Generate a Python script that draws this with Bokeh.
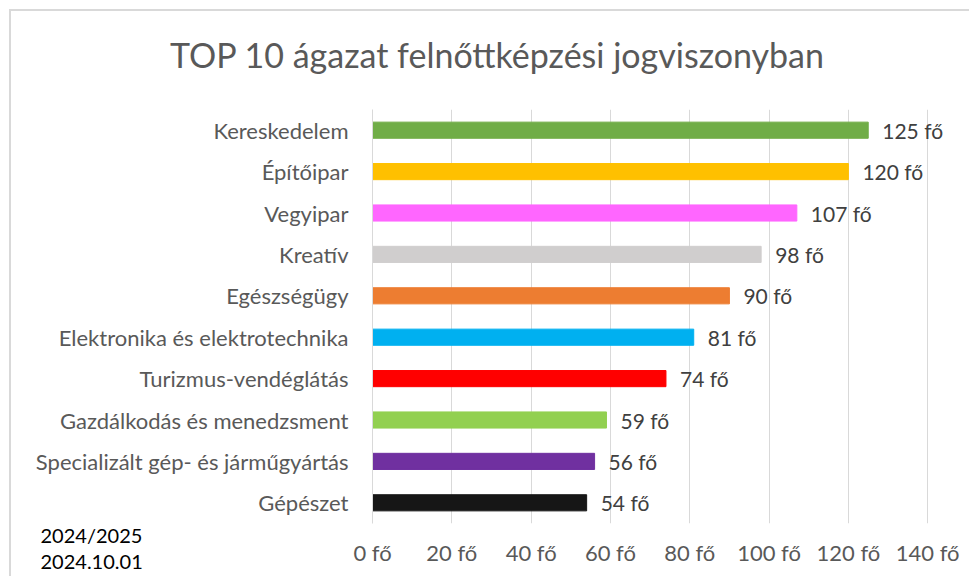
from bokeh.plotting import figure
from bokeh.models import Range1d, FactorRange, FixedTicker, Label, ColumnDataSource
from bokeh.core.properties import value
from bokeh.embed import file_html
from bokeh.resources import INLINE

title_text = "TOP 10 ágazat felnőttképzési jogviszonyban"
categories = ["Kereskedelem", "Építőipar", "Vegyipar", "Kreatív", "Egészségügy",
              "Elektronika és elektrotechnika", "Turizmus-vendéglátás",
              "Gazdálkodás és menedzsment", "Specializált gép- és járműgyártás", "Gépészet"]
values = [125, 120, 107, 98, 90, 81, 74, 59, 56, 54]
colors = ["#70ad47", "#ffc000", "#ff66ff", "#d0cece", "#ed7d31",
          "#00b0f0", "#ff0000", "#92d050", "#7030a0", "#161616"]
xticks = [0, 20, 40, 60, 80, 100, 120, 140]
xtick_labels = ["0 fő", "20 fő", "40 fő", "60 fő", "80 fő", "100 fő", "120 fő", "140 fő"]
note_text = "2024/2025\n2024.10.01"

FONT = "Lato"

src = ColumnDataSource(dict(
    cat=categories, val=values, color=colors,
    lab=[f"{v} fő" for v in values],
))

p = figure(width=960, height=567, output_backend="svg", toolbar_location=None,
           y_range=FactorRange(*list(reversed(categories))),
           x_range=Range1d(0, 146),
           min_border_left=361, min_border_right=20, min_border_top=98, min_border_bottom=55)
p.styles = {"margin-left": "9px", "margin-top": "9px",
            "border-left": "2px solid #d9d9d9", "border-top": "2px solid #d9d9d9"}
p.outline_line_color = None
p.background_fill_color = "white"
p.border_fill_color = "white"

p.hbar(y="cat", right="val", left=0, height=0.39, color="color", source=src)
p.text(x="val", y="cat", text="lab", source=src, x_offset=14,
       text_baseline="middle", text_align="left",
       text_font=value(FONT), text_font_size="21px", text_color="#404040")

p.xaxis.ticker = FixedTicker(ticks=xticks)
p.xaxis.major_label_overrides = {t: l for t, l in zip(xticks, xtick_labels)}
p.xaxis.axis_line_color = None
p.xaxis.major_tick_line_color = None
p.xaxis.minor_tick_line_color = None
p.xaxis.major_label_standoff = 9
p.xaxis.major_label_text_font = FONT
p.xaxis.major_label_text_font_size = "22px"
p.xaxis.major_label_text_color = "#595959"

p.yaxis.axis_line_color = "#d9d9d9"
p.yaxis.major_tick_line_color = None
p.yaxis.minor_tick_line_color = None
p.yaxis.major_label_standoff = 18
p.yaxis.major_label_text_font = FONT
p.yaxis.major_label_text_font_size = "22px"
p.yaxis.major_label_text_color = "#595959"

p.xgrid.grid_line_color = "#d9d9d9"
p.ygrid.grid_line_color = None

p.add_layout(Label(x=-332, y=-413, x_units="screen", y_units="screen", text=note_text,
                   text_align="left", text_baseline="top", text_line_height=1.1,
                   text_font=FONT, text_font_size="20px", text_color="#000000"), "above")
p.add_layout(Label(x=125, y=5, x_units="screen", y_units="screen", text=title_text,
                   text_align="center", text_baseline="middle",
                   text_font=FONT, text_font_size="34px", text_color="#595959"), "above")

open("out.html", "w").write(file_html(p, INLINE))
